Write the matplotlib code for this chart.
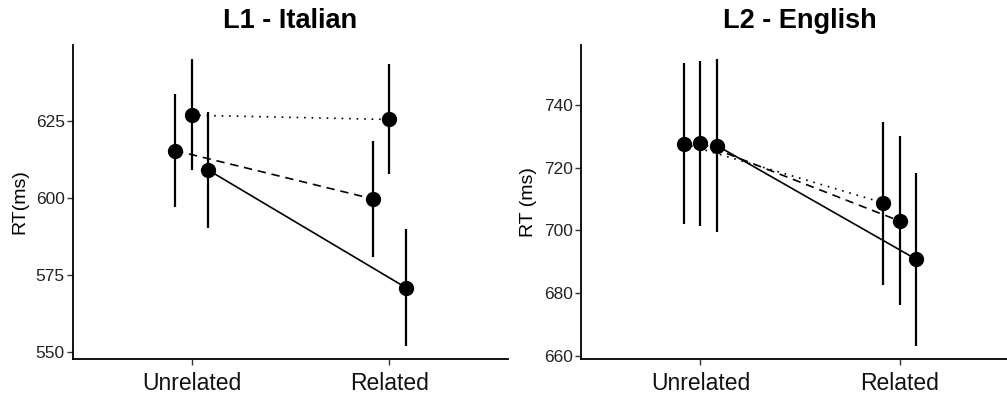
import numpy as np
import matplotlib
matplotlib.use('Agg')
import matplotlib.pyplot as plt

plt.rcParams['font.family'] = ['Liberation Sans', 'DejaVu Sans']

conditions = ['Unrelated', 'Related']

# L1 - Italian: three groups (left, middle, right dodge position)
l1_mean = {'left': [615.4, 599.7], 'middle': [626.9, 625.5], 'right': [609.1, 570.9]}
l1_low = {'left': [597.0, 580.8], 'middle': [609.1, 607.8], 'right': [590.4, 552.0]}
l1_high = {'left': [633.8, 618.6], 'middle': [645.0, 643.5], 'right': [627.8, 589.9]}
l1_style = {'left': '--', 'middle': ':', 'right': '-'}

# L2 - English
l2_mean = {'left': [727.6, 708.8], 'middle': [727.8, 703.0], 'right': [727.0, 690.8]}
l2_low = {'left': [702.0, 682.6], 'middle': [701.4, 676.3], 'right': [699.4, 663.3]}
l2_high = {'left': [753.5, 734.6], 'middle': [754.0, 730.1], 'right': [754.6, 718.4]}
l2_style = {'left': ':', 'middle': '--', 'right': '-'}

offsets = {'left': -0.0833, 'middle': 0.0, 'right': 0.0833}

fig = plt.figure(figsize=(10.07, 3.96), dpi=100)
ax1 = fig.add_axes([73 / 1007, 37 / 396, 435 / 1007, 314 / 396])
ax2 = fig.add_axes([581 / 1007, 37 / 396, 438 / 1007, 314 / 396])


def draw(ax, mean, low, high, style, title, ylabel, ylim, yticks):
    x = np.arange(1, len(conditions) + 1)
    for g in ['left', 'middle', 'right']:
        xs = x + offsets[g]
        m = np.array(mean[g])
        ax.vlines(xs, low[g], high[g], color='black', lw=1.6, zorder=2)
        ls = style[g]
        if ls == ':':
            ax.plot(xs, m, color='black', lw=1.2, linestyle=(0, (1, 3.5)), zorder=2)
        elif ls == '--':
            ax.plot(xs, m, color='black', lw=1.2, linestyle=(0, (5, 3.5)), zorder=2)
        else:
            ax.plot(xs, m, color='black', lw=1.2, zorder=2)
        ax.plot(xs, m, 'o', color='black', markersize=10, zorder=3)
    ax.set_xlim(0.4, 2.6)
    ax.set_ylim(*ylim)
    ax.set_xticks(x)
    ax.set_xticklabels(conditions, fontsize=16.5)
    ax.set_yticks(yticks)
    ax.tick_params(axis='y', labelsize=12.5, length=4, width=1, pad=2,
                   color='#333333', labelcolor='#222222')
    ax.tick_params(axis='x', length=4, width=1, pad=5, color='#333333',
                   labelcolor='#111111')
    for s in ['top', 'right']:
        ax.spines[s].set_visible(False)
    for s in ['left', 'bottom']:
        ax.spines[s].set_linewidth(1.3)
    ax.set_ylabel(ylabel, fontsize=14, labelpad=5)
    ax.set_title(title, fontsize=19.5, fontweight='bold', pad=12)


draw(ax1, l1_mean, l1_low, l1_high, l1_style, 'L1 - Italian', 'RT(ms)',
     (547.7, 649.7), [550, 575, 600, 625])
draw(ax2, l2_mean, l2_low, l2_high, l2_style, 'L2 - English', 'RT (ms)',
     (659.0, 759.1), [660, 680, 700, 720, 740])

fig.savefig('out.png', dpi=100)
